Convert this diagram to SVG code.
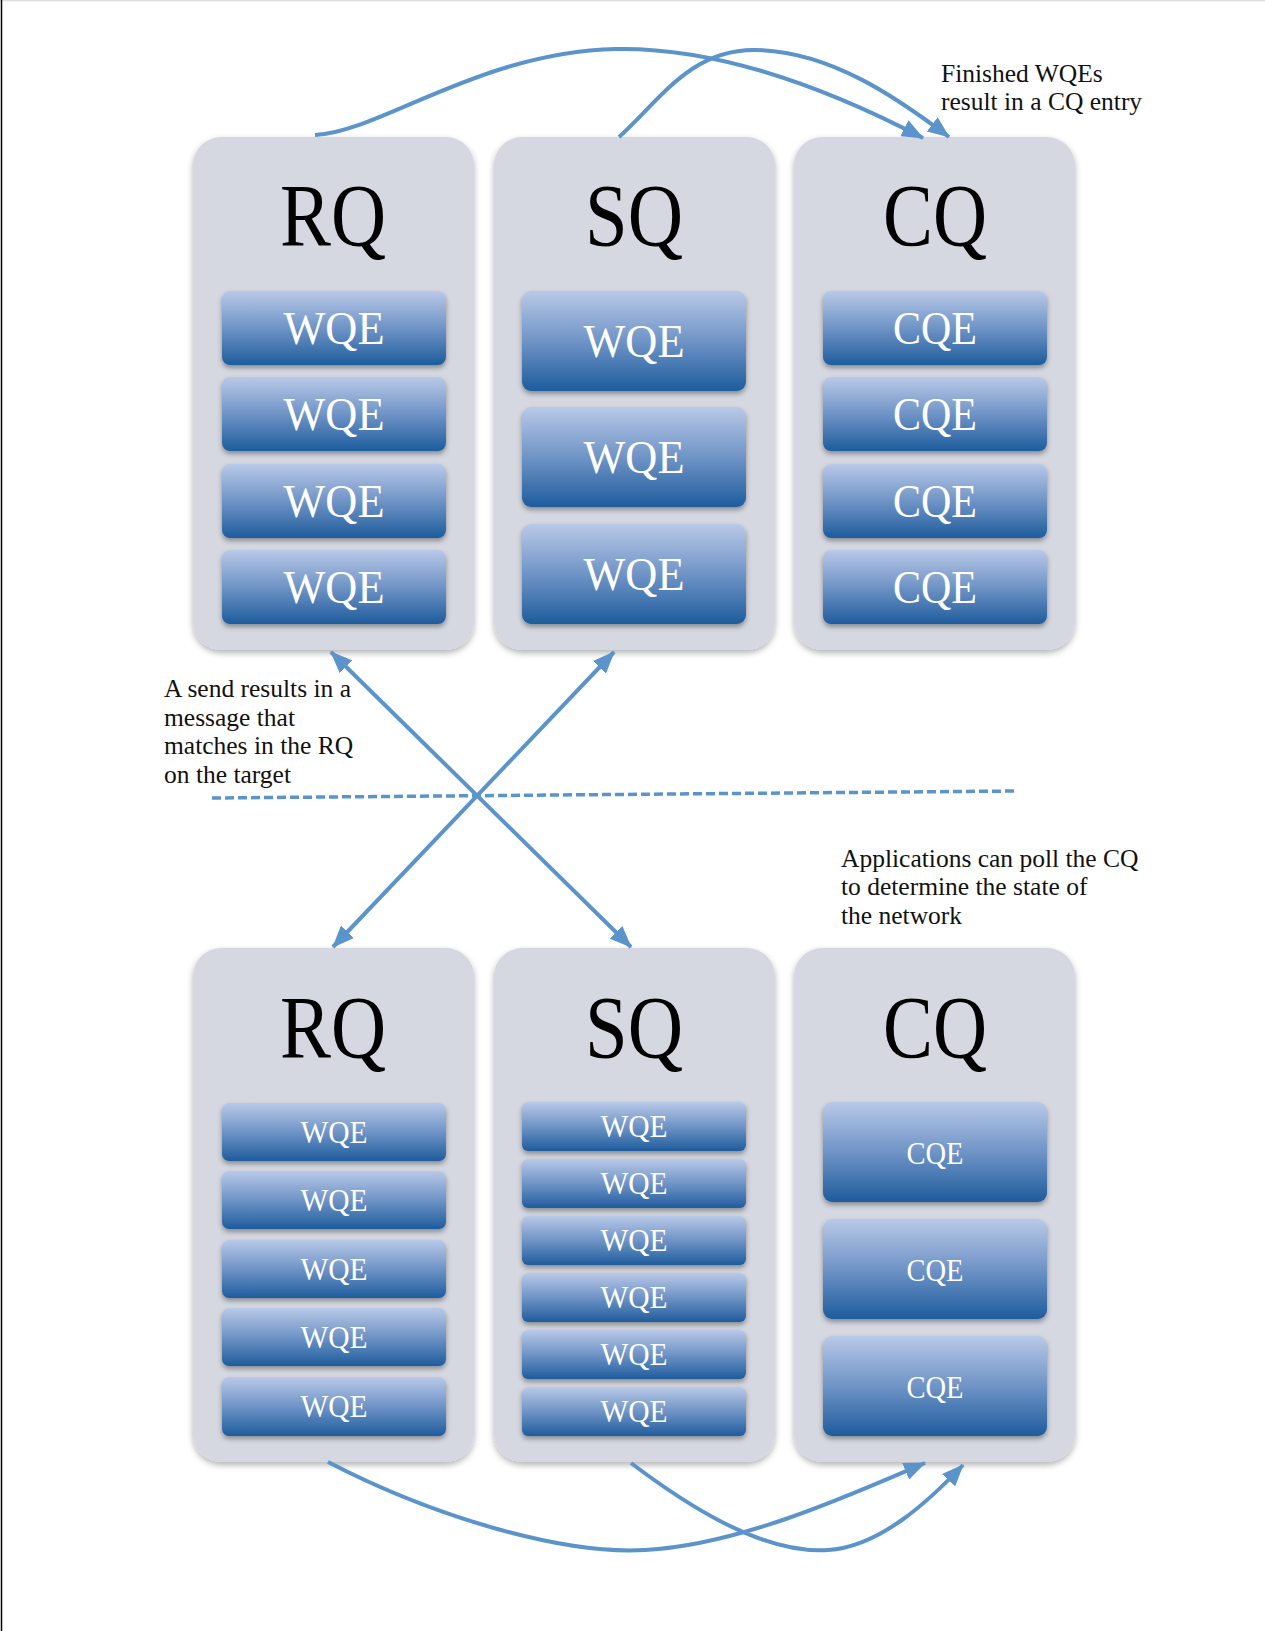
<svg xmlns="http://www.w3.org/2000/svg" width="1265" height="1631" viewBox="0 0 1265 1631">
  <style>
    .queue { fill: #d5d8e0; filter: url(#boxShadow); }
    .entry { fill: url(#entryFill); filter: url(#entryShadow); }
    .title { font-family: "Liberation Serif", "Times New Roman", serif; font-size: 88px; fill: #000; text-anchor: middle; }
    .lbl-lg { font-family: "Liberation Serif", "Times New Roman", serif; font-size: 47px; fill: #fff; text-anchor: middle; }
    .lbl-sm { font-family: "Liberation Serif", "Times New Roman", serif; font-size: 32px; fill: #fff; text-anchor: middle; }
    .note { font-family: "Liberation Serif", "Times New Roman", serif; font-size: 25.5px; fill: #111; }
    .link { fill: none; stroke: #5b93cb; stroke-width: 4; }
    .dash { fill: none; stroke: #5b93cb; stroke-width: 3.5; stroke-dasharray: 9 4; }
  </style>
  <defs>
    <linearGradient id="entryFill" x1="0" y1="0" x2="0" y2="1">
      <stop offset="0" stop-color="#b9c9e8"/>
      <stop offset="0.5" stop-color="#6f94c6"/>
      <stop offset="1" stop-color="#1e5c9d"/>
    </linearGradient>
    <filter id="boxShadow" x="-10%" y="-10%" width="120%" height="120%">
      <feDropShadow dx="0" dy="3" stdDeviation="3" flood-color="#000" flood-opacity="0.3"/>
    </filter>
    <filter id="entryShadow" x="-10%" y="-20%" width="120%" height="150%">
      <feDropShadow dx="0" dy="3" stdDeviation="2.5" flood-color="#000" flood-opacity="0.35"/>
    </filter>
    <marker id="head" viewBox="0 0 22 18" refX="21" refY="9" markerWidth="22" markerHeight="18" markerUnits="userSpaceOnUse" orient="auto-start-reverse">
      <path d="M0,0 L22,9 L0,18 Z" fill="#5b93cb"/>
    </marker>
  </defs>

  <rect width="1265" height="1631" fill="#fff"/>
  <line x1="0" y1="0.5" x2="1265" y2="0.5" stroke="#dcdcdc" stroke-width="1.5"/>
  <line x1="1.5" y1="0" x2="1.5" y2="1631" stroke="#000" stroke-width="1.5"/>

  <!-- upper side: receive, send and completion queues -->
  <g id="rq-top">
    <rect class="queue" x="193" y="137" width="281" height="513" rx="28"/>
    <text class="title" x="333" y="245" textLength="106" lengthAdjust="spacingAndGlyphs">RQ</text>
    <rect class="entry" x="222" y="291" width="224" height="74" rx="8"/>
    <text class="lbl-lg" x="334" y="344" textLength="101" lengthAdjust="spacingAndGlyphs">WQE</text>
    <rect class="entry" x="222" y="377" width="224" height="74" rx="8"/>
    <text class="lbl-lg" x="334" y="430" textLength="101" lengthAdjust="spacingAndGlyphs">WQE</text>
    <rect class="entry" x="222" y="464" width="224" height="74" rx="8"/>
    <text class="lbl-lg" x="334" y="517" textLength="101" lengthAdjust="spacingAndGlyphs">WQE</text>
    <rect class="entry" x="222" y="550" width="224" height="74" rx="8"/>
    <text class="lbl-lg" x="334" y="603" textLength="101" lengthAdjust="spacingAndGlyphs">WQE</text>
  </g>

  <g id="sq-top">
    <rect class="queue" x="494" y="137" width="281" height="513" rx="28"/>
    <text class="title" x="634" y="245" textLength="98" lengthAdjust="spacingAndGlyphs">SQ</text>
    <rect class="entry" x="522" y="291" width="224" height="100" rx="9"/>
    <text class="lbl-lg" x="634" y="357" textLength="101" lengthAdjust="spacingAndGlyphs">WQE</text>
    <rect class="entry" x="522" y="407" width="224" height="100" rx="9"/>
    <text class="lbl-lg" x="634" y="473" textLength="101" lengthAdjust="spacingAndGlyphs">WQE</text>
    <rect class="entry" x="522" y="524" width="224" height="100" rx="9"/>
    <text class="lbl-lg" x="634" y="590" textLength="101" lengthAdjust="spacingAndGlyphs">WQE</text>
  </g>

  <g id="cq-top">
    <rect class="queue" x="794" y="137" width="281" height="513" rx="28"/>
    <text class="title" x="935" y="245" textLength="104" lengthAdjust="spacingAndGlyphs">CQ</text>
    <rect class="entry" x="823" y="291" width="224" height="74" rx="8"/>
    <text class="lbl-lg" x="935" y="344" textLength="84" lengthAdjust="spacingAndGlyphs">CQE</text>
    <rect class="entry" x="823" y="377" width="224" height="74" rx="8"/>
    <text class="lbl-lg" x="935" y="430" textLength="84" lengthAdjust="spacingAndGlyphs">CQE</text>
    <rect class="entry" x="823" y="464" width="224" height="74" rx="8"/>
    <text class="lbl-lg" x="935" y="517" textLength="84" lengthAdjust="spacingAndGlyphs">CQE</text>
    <rect class="entry" x="823" y="550" width="224" height="74" rx="8"/>
    <text class="lbl-lg" x="935" y="603" textLength="84" lengthAdjust="spacingAndGlyphs">CQE</text>
  </g>

  <!-- lower side: the same three queues on the target -->
  <g id="rq-bottom">
    <rect class="queue" x="193" y="948" width="281" height="514" rx="28"/>
    <text class="title" x="333" y="1057" textLength="106" lengthAdjust="spacingAndGlyphs">RQ</text>
    <rect class="entry" x="222" y="1103" width="224" height="58" rx="7"/>
    <text class="lbl-sm" x="334" y="1143" textLength="67" lengthAdjust="spacingAndGlyphs">WQE</text>
    <rect class="entry" x="222" y="1171" width="224" height="58" rx="7"/>
    <text class="lbl-sm" x="334" y="1211" textLength="67" lengthAdjust="spacingAndGlyphs">WQE</text>
    <rect class="entry" x="222" y="1240" width="224" height="58" rx="7"/>
    <text class="lbl-sm" x="334" y="1280" textLength="67" lengthAdjust="spacingAndGlyphs">WQE</text>
    <rect class="entry" x="222" y="1308" width="224" height="58" rx="7"/>
    <text class="lbl-sm" x="334" y="1348" textLength="67" lengthAdjust="spacingAndGlyphs">WQE</text>
    <rect class="entry" x="222" y="1377" width="224" height="59" rx="7"/>
    <text class="lbl-sm" x="334" y="1417" textLength="67" lengthAdjust="spacingAndGlyphs">WQE</text>
  </g>

  <g id="sq-bottom">
    <rect class="queue" x="494" y="948" width="281" height="514" rx="28"/>
    <text class="title" x="634" y="1057" textLength="98" lengthAdjust="spacingAndGlyphs">SQ</text>
    <rect class="entry" x="522" y="1102" width="224" height="49" rx="6"/>
    <text class="lbl-sm" x="634" y="1137" textLength="67" lengthAdjust="spacingAndGlyphs">WQE</text>
    <rect class="entry" x="522" y="1159" width="224" height="49" rx="6"/>
    <text class="lbl-sm" x="634" y="1194" textLength="67" lengthAdjust="spacingAndGlyphs">WQE</text>
    <rect class="entry" x="522" y="1216" width="224" height="49" rx="6"/>
    <text class="lbl-sm" x="634" y="1251" textLength="67" lengthAdjust="spacingAndGlyphs">WQE</text>
    <rect class="entry" x="522" y="1273" width="224" height="49" rx="6"/>
    <text class="lbl-sm" x="634" y="1308" textLength="67" lengthAdjust="spacingAndGlyphs">WQE</text>
    <rect class="entry" x="522" y="1330" width="224" height="49" rx="6"/>
    <text class="lbl-sm" x="634" y="1365" textLength="67" lengthAdjust="spacingAndGlyphs">WQE</text>
    <rect class="entry" x="522" y="1387" width="224" height="49" rx="6"/>
    <text class="lbl-sm" x="634" y="1422" textLength="67" lengthAdjust="spacingAndGlyphs">WQE</text>
  </g>

  <g id="cq-bottom">
    <rect class="queue" x="794" y="948" width="281" height="514" rx="28"/>
    <text class="title" x="935" y="1057" textLength="104" lengthAdjust="spacingAndGlyphs">CQ</text>
    <rect class="entry" x="823" y="1102" width="224" height="100" rx="9"/>
    <text class="lbl-sm" x="935" y="1164" textLength="57" lengthAdjust="spacingAndGlyphs">CQE</text>
    <rect class="entry" x="823" y="1219" width="224" height="100" rx="9"/>
    <text class="lbl-sm" x="935" y="1281" textLength="57" lengthAdjust="spacingAndGlyphs">CQE</text>
    <rect class="entry" x="823" y="1336" width="224" height="100" rx="9"/>
    <text class="lbl-sm" x="935" y="1398" textLength="57" lengthAdjust="spacingAndGlyphs">CQE</text>
  </g>

  <!-- arrows and the dashed network boundary -->
  <g id="connectors">
    <path class="link" marker-end="url(#head)" d="M315,135 C380,132 480,52 616,49 C730,47 850,100 923,138"/>
    <path class="link" marker-end="url(#head)" d="M619,137 C660,100 690,50 754,50 C830,50 900,100 949,137"/>
    <path class="link" marker-start="url(#head)" marker-end="url(#head)" d="M331,652 L631,947"/>
    <path class="link" marker-start="url(#head)" marker-end="url(#head)" d="M614,652 L333,947"/>
    <path class="dash" d="M212,798 L1017,791"/>
    <path class="link" marker-end="url(#head)" d="M328,1462 C430,1515 560,1555 645,1550 C740,1545 850,1495 925,1463"/>
    <path class="link" marker-end="url(#head)" d="M631,1463 C680,1500 760,1555 828,1550 C880,1547 930,1500 963,1465"/>
  </g>

  <g id="notes">
    <text class="note" x="941" y="82">Finished WQEs</text>
    <text class="note" x="941" y="110">result in a CQ entry</text>
    <text class="note" x="164" y="697">A send results in a</text>
    <text class="note" x="164" y="726">message that</text>
    <text class="note" x="164" y="754">matches in the RQ</text>
    <text class="note" x="164" y="783">on the target</text>
    <text class="note" x="841" y="867">Applications can poll the CQ</text>
    <text class="note" x="841" y="895">to determine the state of</text>
    <text class="note" x="841" y="924">the network</text>
  </g>
</svg>
